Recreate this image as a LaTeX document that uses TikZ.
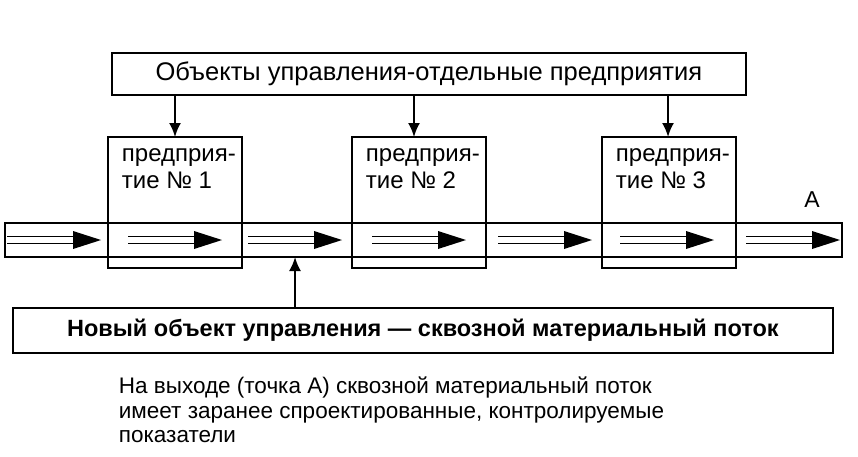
\documentclass[tikz,border=0pt]{standalone}
\usepackage{fontspec}
\setmainfont{Liberation Sans}
\usetikzlibrary{arrows.meta}
\begin{document}
\begin{tikzpicture}[x=1pt,y=-1pt,line width=1.8pt,
 box/.style={draw,line width=1.8pt,inner sep=0pt},
 lbl/.style={font=\fontsize{24}{27}\selectfont,align=left,anchor=north west,inner sep=0pt},
 arr/.style={-{Latex[length=14pt,width=12pt]},line width=2pt}]
\useasboundingbox (0,0) rectangle (858,456);
\node[box,minimum width=634pt,minimum height=42pt,anchor=north west,font=\fontsize{25.5}{28}\selectfont] (top) at (111,52) {Объекты управления-отдельные предприятия};
\node[box,minimum width=820pt,minimum height=45pt,anchor=north west,font=\bfseries\fontsize{23.5}{27}\selectfont] (bot) at (12,307) {Новый объект управления — сквозной материальный поток};
\draw (5,223) rectangle (842,257);
\foreach \n/\x in {1/108,2/352,3/602}{
 \draw (\x,137) rectangle ++(134,131);
 \coordinate (e\n) at (\x+67,137);
 \node[lbl] (t\n) at (\x+13,148) {предприя-\\тие № \n};
}
\foreach \a in {7,128,248,372,498,620,746}{
 \coordinate (s\a) at (\a,240);
 \coordinate (h\a) at (\a+72,240);
 \draw[line width=1.8pt] ([yshift=-3.5pt]s\a) -- ([yshift=-3.5pt]h\a);
 \draw[line width=1.8pt] ([yshift=3.5pt]s\a) -- ([yshift=3.5pt]h\a);
 \fill (\a+66,231) -- (\a+94,240) -- (\a+66,249) -- cycle;
}
\draw[arr] (top.south -| 175,0) -- (e1 -| 175,0);
\draw[arr] (top.south -| 414,0) -- (e2 -| 414,0);
\draw[arr] (top.south -| 668,0) -- (e3 -| 668,0);
\coordinate (sb) at (295,257);
\draw[arr] (bot.north -| sb) -- (sb);
\node[font=\fontsize{23}{27}\selectfont] (A) at (812,200) {A};
\node[lbl,font=\fontsize{22.5}{24.5}\selectfont] (note) at (118,376) {На выходе (точка А) сквозной материальный поток\\имеет заранее спроектированные, контролируемые\\показатели};
\end{tikzpicture}
\end{document}
